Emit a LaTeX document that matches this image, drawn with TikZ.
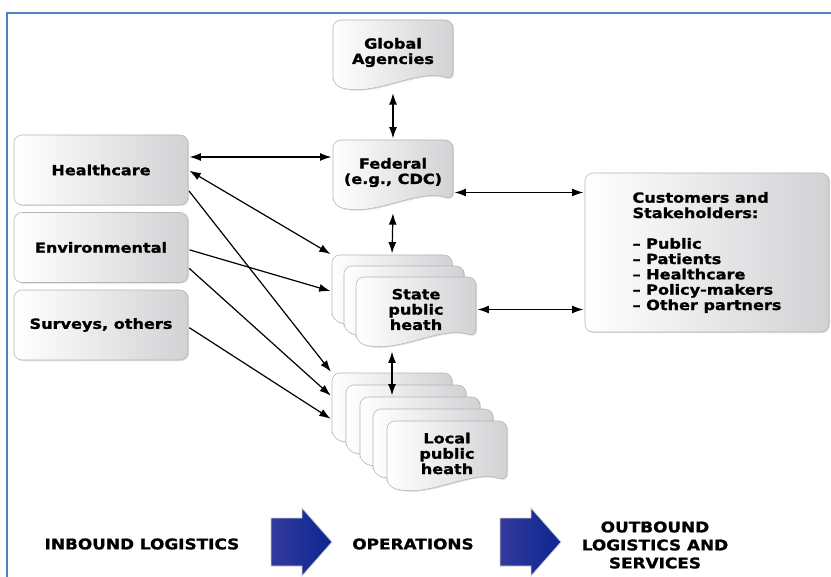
\documentclass[tikz,border=0pt]{standalone}
\usepackage{fontspec}
\setmainfont{DejaVu Sans}[FakeStretch=1.15,BoldFeatures={FakeBold=1.2}]
\usetikzlibrary{arrows.meta,calc,shadows}
\definecolor{framecol}{RGB}{79,129,189}
\definecolor{boxline}{RGB}{180,180,182}
\definecolor{boxgray}{RGB}{210,210,213}
\definecolor{flowleft}{RGB}{52,58,156}
\definecolor{flowright}{RGB}{10,38,146}
\tikzstyle{source}=[
	rectangle,
	rounded corners=6pt,
	draw=boxline,
	left color=white,
	right color=boxgray,
	minimum width=130.5pt,
	minimum height=52.5pt,
	font=\bfseries\fontsize{10.5}{11.5}\selectfont,
	drop shadow={opacity=0.25,shadow xshift=0.8pt,shadow yshift=-0.8pt}
]
\tikzstyle{docpage}=[
	draw=boxline,
	left color=white,
	right color=boxgray,
	rounded corners=6pt,
	drop shadow={opacity=0.25,shadow xshift=0.8pt,shadow yshift=-0.8pt}
]
\tikzstyle{doclabel}=[
	rectangle,
	inner sep=0pt,
	minimum width=90pt,
	minimum height=48.75pt,
	align=center,
	font=\bfseries\fontsize{10.5}{11.5}\selectfont
]
\tikzstyle{link}=[
	<->,
	>={Latex[length=8.5pt,width=6pt]},
	shorten >=1pt,
	shorten <=1pt,
	line width=0.9pt
]
\tikzstyle{feed}=[link,-{Latex[length=8.5pt,width=6pt]}]
\tikzstyle{bigarrow}=[
	draw=gray!35,
	line width=0.6pt,
	left color=flowleft,
	right color=flowright
]
\tikzstyle{stage}=[font=\bfseries\fontsize{11}{13.5}\selectfont, align=center]
% document shape: name, left, top, text
\newcommand{\docshape}[4]{%
	\path[docpage,shift={(#2,#3)}] (0,65) -- (0,0) -- (120,0) -- (120,60)
		.. controls (85,48) and (40,78) .. (0,65) -- cycle;
	\node[doclabel] (#1) at (#2+60,#3+32.5) {#4};
}

\begin{document}
\begin{tikzpicture}[x=0.75pt,y=-0.75pt]
\useasboundingbox (0,0) rectangle (831,577);
\draw[framecol,line width=1.4pt] (7,577) -- (7,13) -- (831,13);

% sources
\node [source] (healthcare) at (101,170) {Healthcare};
\node [source] (environmental) at (101,247.5) {Environmental};
\node [source] (surveys) at (101,325) {Surveys, others};

% agencies
\docshape{global}{333}{20}{Global\\Agencies}
\docshape{federal}{333}{140}{Federal\\(e.g., CDC)}
\docshape{state1}{332}{255}{}
\docshape{state2}{344}{266}{}
\docshape{state}{356}{277}{State\\public\\heath}
\docshape{local1}{332}{373}{}
\docshape{local2}{346}{385}{}
\docshape{local3}{360}{397}{}
\docshape{local4}{373}{409}{}
\docshape{local}{387}{421}{Local\\public\\heath}

% customers
\node [source, minimum width=183pt, minimum height=119.25pt, align=left] (customers) at (707,252.5)
	{Customers and\\Stakeholders:\\[11.5pt]– Public\\– Patients\\– Healthcare\\– Policy-makers\\– Other partners};

% links
\draw[link] ([yshift=-5pt]global.south) -- (federal.north);
\draw[link] ([yshift=-5pt]federal.south) -- (state1.north);
\draw[link] ([yshift=-6pt]state.south -| state1.south) -- (local3.north -| state1.south);
\draw[link] ($(federal.east)+(0,20)$) -- ($(federal.east -| customers.west)+(0,20)$);
\draw[link] (state.east) -- (state.east -| customers.west);
\draw[link] ($(healthcare.east)+(0,-13)$) -- ($(healthcare.east -| federal.west)+(0,-13)$);
\draw[link] (healthcare.east) -- (state1.north west);
\draw[feed] ($(healthcare.east)+(0,20)$) -- (local1.north west);
\draw[feed] ($(environmental.east)+(0,2)$) -- ($(state1.west)+(0,4)$);
\draw[feed] ($(environmental.east)+(0,20)$) -- ($(local1.west)+(0,-9)$);
\draw[feed] ($(surveys.east)+(0,2)$) -- ($(local1.west)+(0,14)$);

% value chain
\node [stage] (inbound) at (142,544) {INBOUND LOGISTICS};
\node [stage] (operations) at (413,544) {OPERATIONS};
\node [stage] (outbound) at (655,545) {OUTBOUND\\LOGISTICS AND\\SERVICES};
\foreach \ax in {271,500}
	\path[bigarrow] (\ax,518) -- (\ax+31,518) -- (\ax+31,508) -- (\ax+61,542)
		-- (\ax+31,576) -- (\ax+31,566) -- (\ax,566) -- cycle;
\end{tikzpicture}
\end{document}
